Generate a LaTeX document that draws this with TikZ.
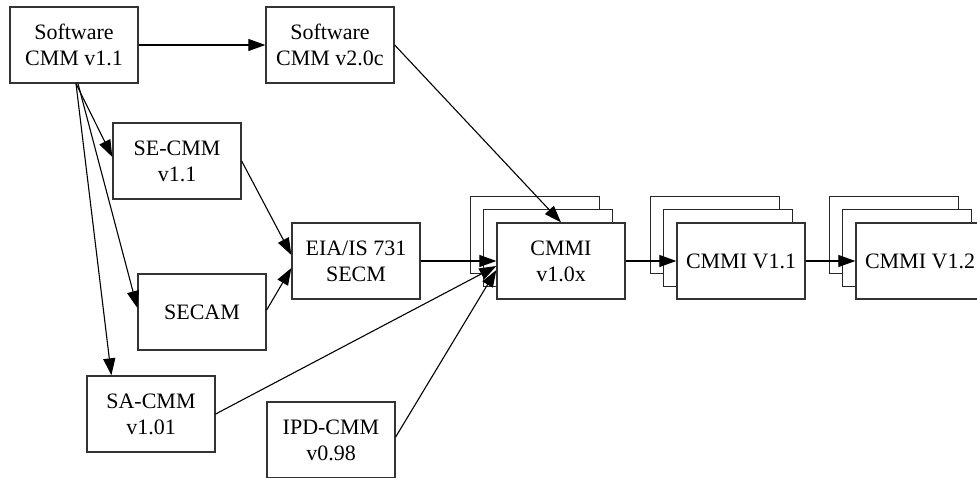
\documentclass[tikz,border=0pt]{standalone}
\usepackage{fontspec}
\setmainfont{Liberation Serif}
\usetikzlibrary{arrows.meta,positioning,backgrounds}

\begin{document}
\begin{tikzpicture}[x=1pt, y=-1pt,
    box/.style={rectangle, draw=black!80, line width=1.3pt, fill=white, minimum width=128pt, minimum height=76pt, inner sep=0pt, align=center, font=\fontsize{22}{26}\selectfont},
    stack/.style={draw=black!85, line width=1.6pt, fill=white},
    arrow/.style={-{Triangle[length=17pt,width=12pt]}, line width=1.1pt}
  ]
    \useasboundingbox (0,0) rectangle (977,478);
    \node[box] (swcmm) at (74,45) {Software\\CMM v1.1};
    \node[box] (swcmmb) at (330,45) {Software\\CMM v2.0c};
    \node[box] (secmm) at (177,161) {SE-CMM\\v1.1};
    \node[box] (secam) at (202,312) {SECAM};
    \node[box] (eia) at (356,261) {EIA/IS 731\\SECM};
    \node[box] (sacmm) at (151,414) {SA-CMM\\v1.01};
    \node[box] (ipd) at (331,440) {IPD-CMM\\v0.98};
    \node[box] (cmmi) at (561,261) {CMMI\\v1.0x};
    \node[box] (cmmia) at (741,261) {CMMI V1.1};
    \node[box] (cmmib) at (920,261) {CMMI V1.2};
    % the frames stacked behind each CMMI box
    \begin{scope}[on background layer]
      \foreach \n in {cmmi,cmmia,cmmib} {
        \foreach \k in {2,1} {
          \draw[stack] ([shift={(-13*\k,-13*\k)}]\n.north west) rectangle ([shift={(-13*\k,-13*\k)}]\n.south east);
        }
      }
    \end{scope}
    \draw[arrow] (swcmm) -- (swcmmb);
    \draw[arrow] ([xshift=2pt]swcmm.south) -- ([yshift=4pt]secmm.west);
    \draw[arrow] ([xshift=4pt]swcmm.south) -- ([yshift=4pt]secam.west);
    \draw[arrow] ([xshift=2pt]swcmm.south) -- ([xshift=25pt]sacmm.north west);
    \draw[arrow] (secmm.east) -- ([yshift=6pt]eia.west);
    \draw[arrow] ([yshift=2pt]secam.east) -- ([yshift=-7pt]eia.west);
    \draw[arrow] (eia.east) -- (cmmi.west);
    \draw[arrow] (sacmm.east) -- ([yshift=-5pt]cmmi.west);
    \draw[arrow] ([yshift=3pt]ipd.east) -- ([yshift=-9pt]cmmi.west);
    \draw[arrow] (swcmmb.east) -- (cmmi.north);
    \draw[arrow] (cmmi) -- (cmmia);
    \draw[arrow] (cmmia) -- (cmmib);
  \end{tikzpicture}
\end{document}
